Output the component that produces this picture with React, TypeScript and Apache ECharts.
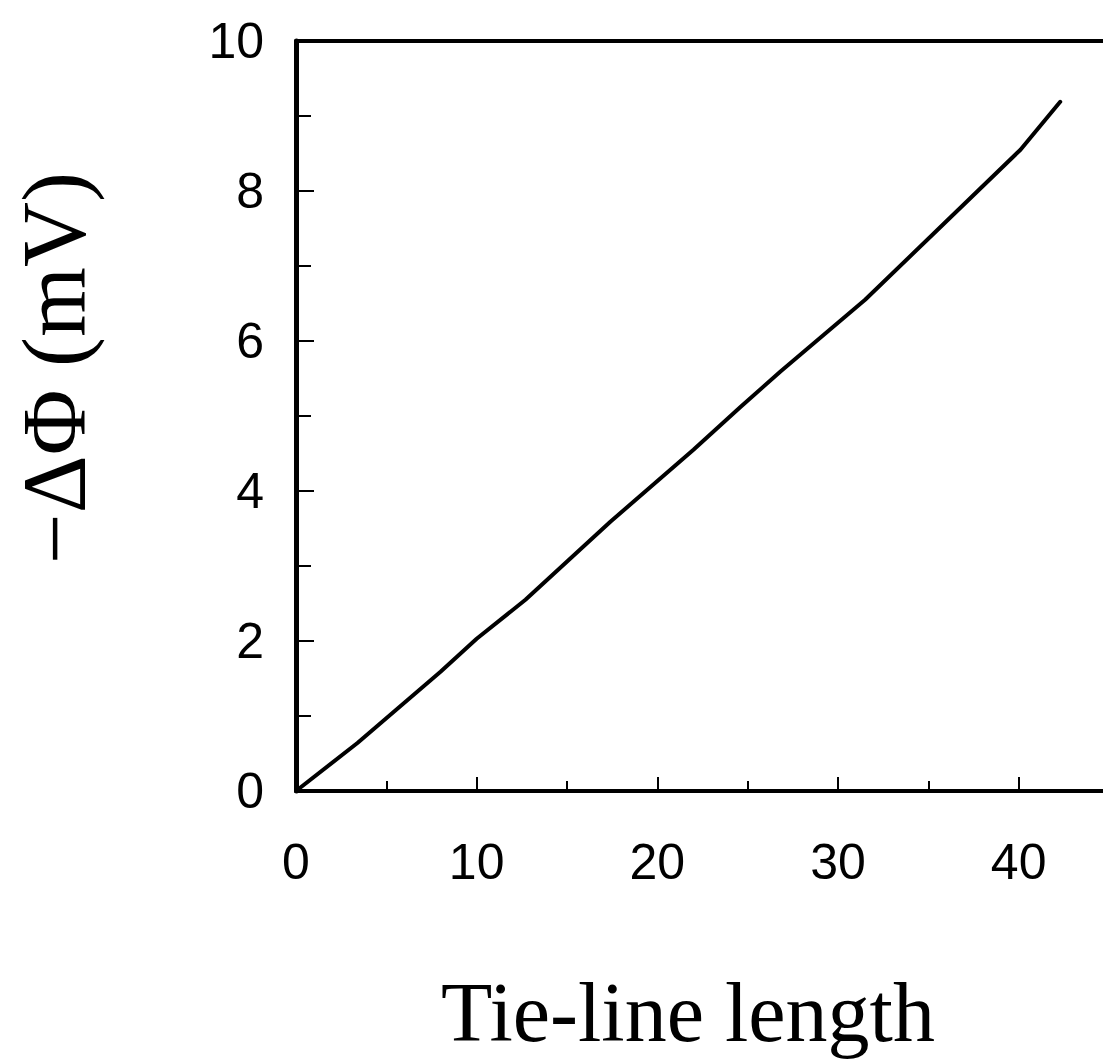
import React, { useEffect, useRef } from "react";
import * as echarts from "echarts";

const tieLineLength = [0, 3.4, 8.0, 10.0, 12.7, 17.4, 22.0, 24.6, 26.8, 31.5, 35.5, 40.1, 42.3];
const deltaPhi = [0, 0.64, 1.59, 2.03, 2.55, 3.59, 4.55, 5.12, 5.59, 6.55, 7.48, 8.55, 9.19];
const xTicks = [0, 10, 20, 30, 40];
const yTicks = [0, 2, 4, 6, 8, 10];
const xName = "Tie-line length";
const yName = "\u2212\u0394\u03A6 (mV)";

export default function App() {
  const ref = useRef<HTMLDivElement>(null);
  useEffect(() => {
    if (!ref.current) return;
    const chart = echarts.init(ref.current, null, { renderer: "svg" });
    const data = tieLineLength.map((x, i) => [x, deltaPhi[i]]);
    const tickFont = { fontFamily: "Liberation Sans, Arial, sans-serif", fontSize: 50, color: "#000" };
    chart.setOption({
      animation: false,
      backgroundColor: "#fff",
      grid: { left: 296, top: 41, right: 2, bottom: 268, containLabel: false },
      xAxis: [
        {
          type: "value",
          min: 0,
          max: 45,
          interval: 10,
          position: "bottom",
          axisLine: { show: true, onZero: false, lineStyle: { color: "#000", width: 4 } },
          axisTick: { show: true, inside: true, length: 14, lineStyle: { color: "#000", width: 2 } },
          minorTick: { show: true, splitNumber: 2, length: 10, lineStyle: { color: "#000", width: 2 } },
          splitLine: { show: false },
          axisLabel: {
            ...tickFont,
            margin: 46,
            formatter: (v: number) => (xTicks.includes(v) ? String(v) : ""),
          },
        },
        {
          type: "value",
          min: 0,
          max: 45,
          position: "top",
          axisLine: { show: true, onZero: false, lineStyle: { color: "#000", width: 4 } },
          axisTick: { show: false },
          axisLabel: { show: false },
          splitLine: { show: false },
        },
      ],
      yAxis: [
        {
          type: "value",
          min: 0,
          max: 10,
          interval: 2,
          position: "left",
          axisLine: { show: true, onZero: false, lineStyle: { color: "#000", width: 5 } },
          axisTick: { show: true, inside: true, length: 18, lineStyle: { color: "#000", width: 2 } },
          minorTick: { show: true, splitNumber: 2, length: 15, lineStyle: { color: "#000", width: 2 } },
          splitLine: { show: false },
          axisLabel: {
            ...tickFont,
            margin: 32,
            formatter: (v: number) => (yTicks.includes(v) ? String(v) : ""),
          },
        },
        {
          type: "value",
          min: 0,
          max: 10,
          position: "right",
          axisLine: { show: true, onZero: false, lineStyle: { color: "#000", width: 3 } },
          axisTick: { show: false },
          axisLabel: { show: false },
          splitLine: { show: false },
        },
      ],
      series: [
        {
          type: "line",
          data,
          showSymbol: false,
          smooth: false,
          lineStyle: { color: "#000", width: 4, join: "round", cap: "round" },
          xAxisIndex: 0,
          yAxisIndex: 0,
        },
      ],
      graphic: [
        {
          type: "text",
          x: 688,
          y: 1012,
          style: {
            text: xName,
            fontFamily: "Liberation Serif, Times New Roman, serif",
            fontSize: 84,
            fill: "#000",
            align: "center",
            verticalAlign: "middle",
          },
        },
        {
          type: "text",
          x: 54,
          y: 368,
          rotation: Math.PI / 2,
          style: {
            text: yName,
            fontFamily: "Liberation Serif, Times New Roman, serif",
            fontSize: 90,
            fill: "#000",
            align: "center",
            verticalAlign: "middle",
          },
        },
      ],
    });
    return () => chart.dispose();
  }, []);
  return (
    <div style={{ position: "absolute", left: 0, top: 0, width: 1103, height: 1059, overflow: "hidden", background: "#fff" }}>
      <div ref={ref} style={{ width: 1112, height: 1059 }} />
    </div>
  );
}
